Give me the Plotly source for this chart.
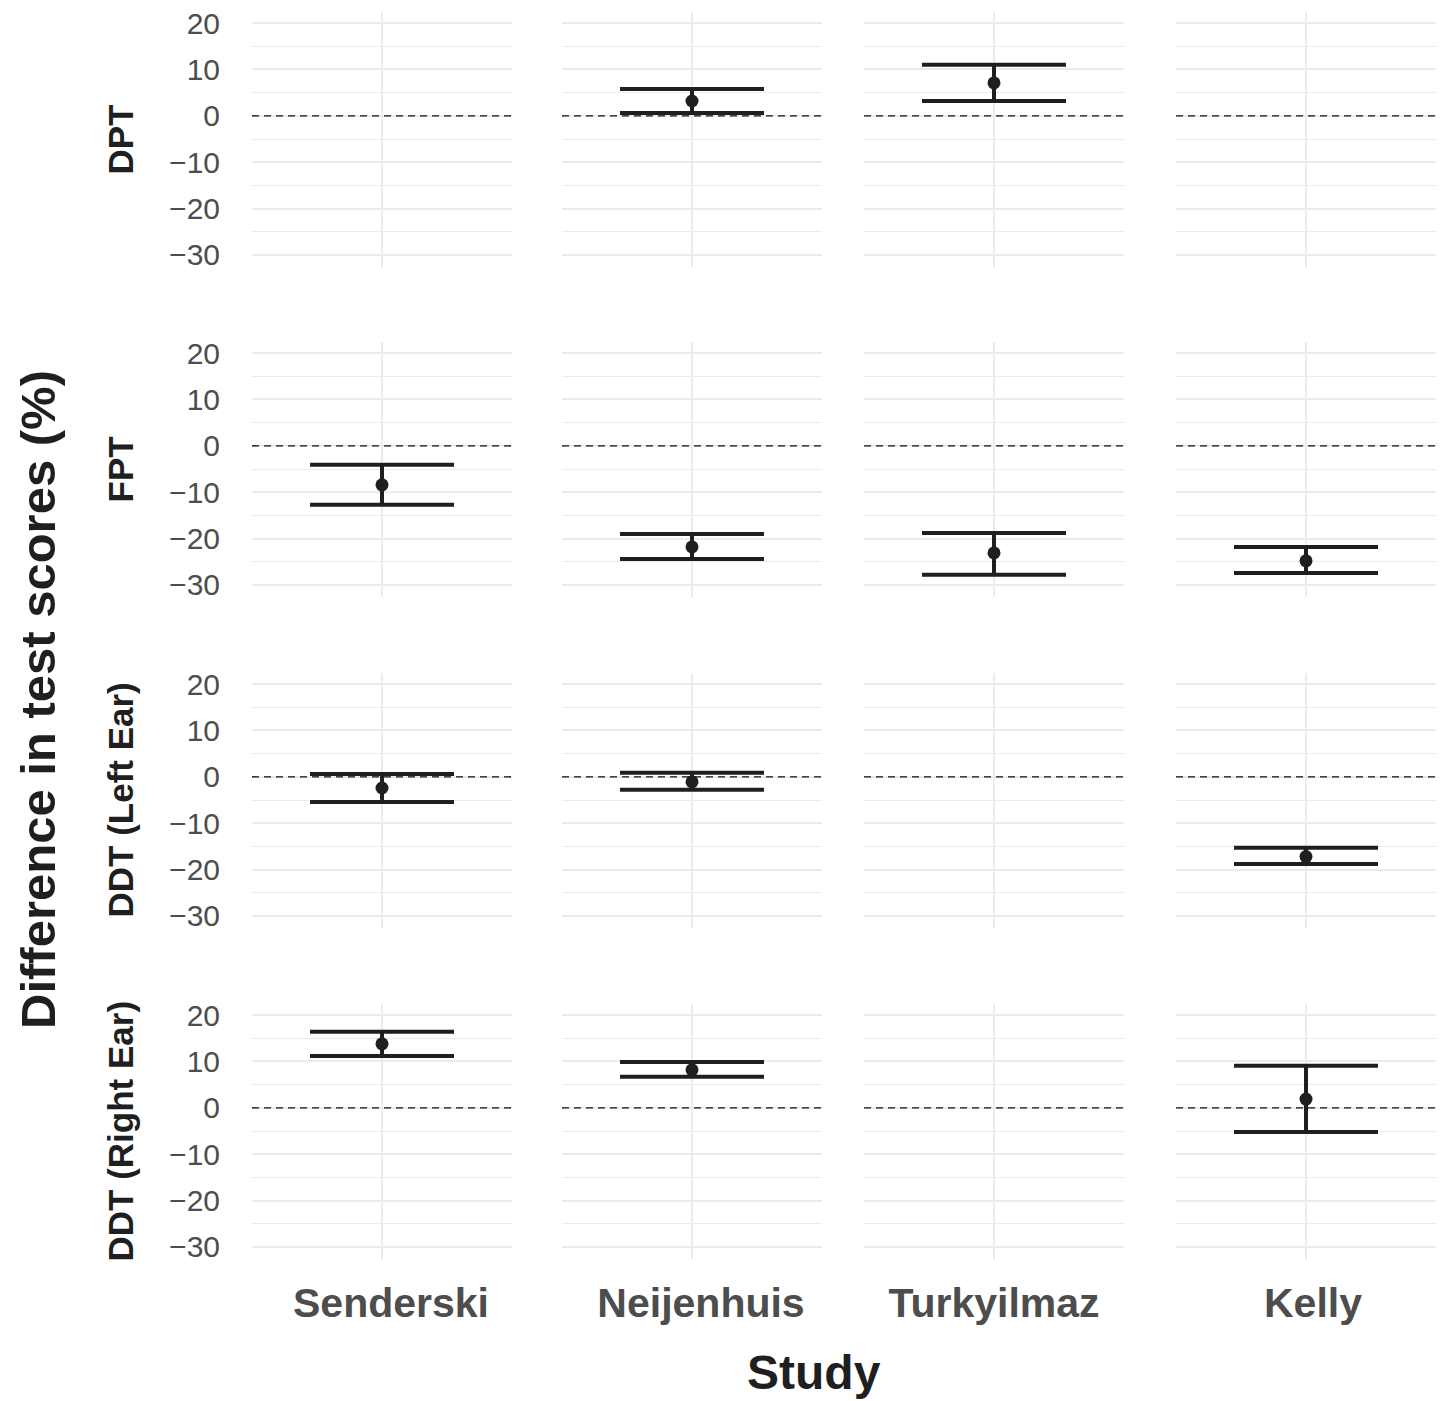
import plotly.graph_objects as go
from plotly.subplots import make_subplots

# ---------------- data ----------------
studies = ["Senderski", "Neijenhuis", "Turkyilmaz", "Kelly"]
tests = ["DPT", "FPT", "DDT (Left Ear)", "DDT (Right Ear)"]

dpt_mean = [None, 3.2, 7.1, None]
dpt_lower = [None, 0.6, 3.2, None]
dpt_upper = [None, 5.8, 11.0, None]

fpt_mean = [-8.4, -21.8, -23.1, -24.8]
fpt_lower = [-12.7, -24.4, -27.8, -27.4]
fpt_upper = [-4.1, -19.0, -18.8, -21.8]

ddt_left_mean = [-2.4, -1.1, None, -17.2]
ddt_left_lower = [-5.4, -2.8, None, -18.8]
ddt_left_upper = [0.6, 0.9, None, -15.3]

ddt_right_mean = [13.8, 8.2, None, 1.9]
ddt_right_lower = [11.2, 6.7, None, -5.2]
ddt_right_upper = [16.4, 9.9, None, 9.1]

y_tickvals = [-30, -20, -10, 0, 10, 20]
y_ticktext = ["\u221230", "\u221220", "\u221210", "0", "10", "20"]

rows_data = [
    (dpt_mean, dpt_lower, dpt_upper),
    (fpt_mean, fpt_lower, fpt_upper),
    (ddt_left_mean, ddt_left_lower, ddt_left_upper),
    (ddt_right_mean, ddt_right_lower, ddt_right_upper),
]

# ---------------- layout geometry (page pixels) ----------------
OFF = 8                      # default page body margin
PAGE_W, PAGE_H = 1444, 1401
W, H = PAGE_W - OFF, PAGE_H - OFF
col_px = [(252, 512), (562, 822), (864, 1124), (1176, 1436)]
row_px = [(12, 267), (342, 597), (673, 928), (1004, 1259)]
xlabel_shift = [9, 9, 0, 7]


def px(xp):
    return (xp - OFF) / W


def py(yp):
    return 1 - (yp - OFF) / H


FONT = "Liberation Sans, Arial, Helvetica, sans-serif"
DARK = "#1f1f1f"
GRID = "#ebebeb"
TICKCOL = "#4d4d4d"

fig = make_subplots(rows=4, cols=4)

for r, (m, lo, hi) in enumerate(rows_data):
    for c in range(4):
        if m[c] is None:
            continue
        fig.add_trace(
            go.Scatter(
                x=[0], y=[m[c]],
                mode="markers",
                marker=dict(size=13, color=DARK),
                error_y=dict(
                    type="data", symmetric=False,
                    array=[hi[c] - m[c]], arrayminus=[m[c] - lo[c]],
                    color=DARK, thickness=4, width=72,
                ),
                showlegend=False,
                hoverinfo="skip",
            ),
            row=r + 1, col=c + 1,
        )

for r in range(4):
    for c in range(4):
        idx = r * 4 + c + 1
        sfx = "" if idx == 1 else str(idx)
        x0, x1 = col_px[c]
        y0, y1 = row_px[r]
        fig.layout["xaxis" + sfx].update(
            domain=[px(x0), px(x1)],
            range=[-1, 1],
            tickvals=[0],
            ticktext=[studies[c]],
            showticklabels=(r == 3),
            ticklabelshift=xlabel_shift[c],
            ticklabeloverflow="allow",
            showgrid=True, gridcolor=GRID, gridwidth=1.5,
            zeroline=False, showline=False, automargin=False,
            ticks="outside" if r == 3 else "", ticklen=8, tickcolor="rgba(0,0,0,0)",
            tickfont=dict(family=FONT, size=41, color=TICKCOL, weight="bold"),
            fixedrange=True,
        )
        fig.layout["yaxis" + sfx].update(
            domain=[py(y1), py(y0)],
            range=[-32.6, 22.4],
            tickvals=y_tickvals,
            ticktext=y_ticktext,
            showticklabels=(c == 0),
            ticklabeloverflow="allow",
            showgrid=True, gridcolor=GRID, gridwidth=1.5,
            minor=dict(dtick=5, tick0=0, showgrid=True, gridcolor=GRID, gridwidth=1),
            zeroline=False, showline=False, automargin=False,
            ticks="outside" if c == 0 else "", ticklen=25, tickcolor="rgba(0,0,0,0)",
            tickfont=dict(family=FONT, size=30, color=TICKCOL),
            fixedrange=True,
        )
        fig.add_shape(
            type="line", xref="x" + sfx + " domain", yref="y" + sfx,
            x0=0, x1=1, y0=0, y1=0,
            line=dict(color="#111111", width=1.4, dash="7px,5px"),
            layer="above",
        )

# row (facet strip) labels on the left
for r in range(4):
    y0, y1 = row_px[r]
    fig.add_annotation(
        xref="paper", yref="paper",
        x=px(120), y=py((y0 + y1) / 2),
        text="<b>" + tests[r] + "</b>", textangle=-90,
        showarrow=False, xanchor="center", yanchor="middle",
        font=dict(family=FONT, size=35, color=DARK),
    )

# axis titles
fig.add_annotation(
    xref="paper", yref="paper", x=px(38), y=py(700),
    text="<b>Difference in test scores (%)</b>", textangle=-90,
    showarrow=False, xanchor="center", yanchor="middle",
    font=dict(family=FONT, size=49, color=DARK),
)
fig.add_annotation(
    xref="paper", yref="paper", x=px(814), y=py(1372),
    text="<b>Study</b>",
    showarrow=False, xanchor="center", yanchor="middle",
    font=dict(family=FONT, size=48, color=DARK),
)

fig.update_layout(
    width=W, height=H,
    margin=dict(l=0, r=0, t=0, b=0, autoexpand=False),
    paper_bgcolor="white", plot_bgcolor="white",
    showlegend=False,
    font=dict(family=FONT),
)

fig.write_html("out.html")
